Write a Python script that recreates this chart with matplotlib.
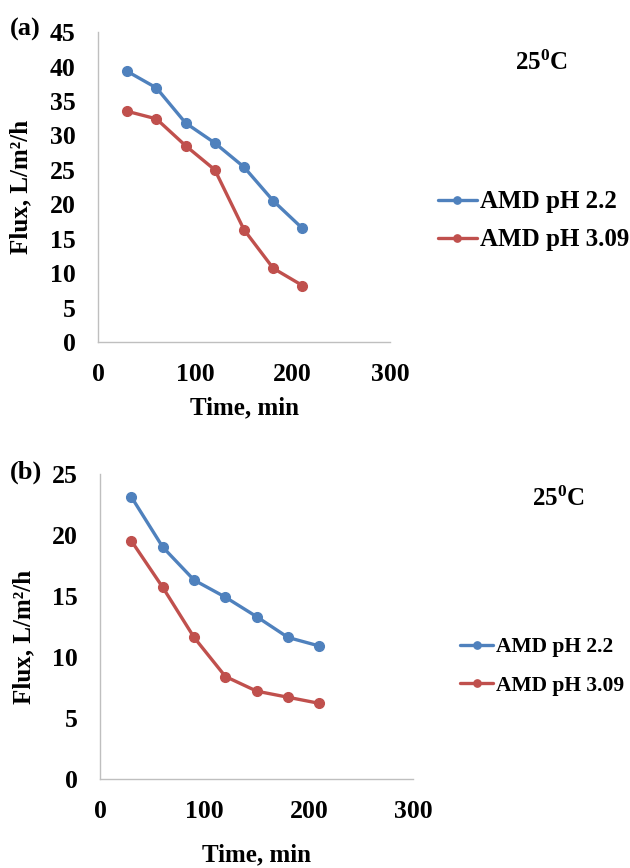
import matplotlib
matplotlib.use('Agg')
import matplotlib.pyplot as plt

plt.rcParams['font.family'] = ['Liberation Serif', 'DejaVu Serif']
plt.rcParams['font.weight'] = 'bold'
plt.rcParams['mathtext.fontset'] = 'custom'
plt.rcParams['mathtext.rm'] = 'Liberation Serif:bold'
plt.rcParams['mathtext.bf'] = 'Liberation Serif:bold'

# time points, min
time_min = [30, 60, 90, 120, 150, 180, 210]

# panel (a) flux, L/m2/h
flux_a_ph22 = [39.3, 36.9, 31.8, 28.9, 25.4, 20.5, 16.5]
flux_a_ph309 = [33.5, 32.4, 28.5, 25.0, 16.3, 10.7, 8.2]

# panel (b) flux, L/m2/h
flux_b_ph22 = [23.1, 19.0, 16.3, 14.9, 13.3, 11.6, 10.9]
flux_b_ph309 = [19.5, 15.7, 11.6, 8.4, 7.2, 6.7, 6.2]

series_labels = ['AMD pH 2.2', 'AMD pH 3.09']
series_colors = ['#4F81BD', '#C0504D']

fig = plt.figure(figsize=(6.3, 8.68), dpi=100)

panels = [
    # (axes rect, data, ylim, yticks, tag, tag y, ylabel coords, xlabel y,
    #  legend anchor, legend size, legend spacing, temp x, temp y)
    ([0.1556, 0.606, 0.4635, 0.357], (flux_a_ph22, flux_a_ph309), 45, range(0, 46, 5),
     '(a)', 0.966, (-0.226, 0.5), -0.175, (0.695, 0.7454), 18, 0.6, 0.860, 0.928),
    ([0.159, 0.1025, 0.497, 0.3515], (flux_b_ph22, flux_b_ph309), 25, range(0, 26, 5),
     '(b)', 0.456, (-0.208, 0.467), -0.212, (0.730, 0.2321), 15.5, 0.85, 0.886, 0.425),
]

for (rect, data, ymax, yticks, tag, tag_y, ylab_xy, xlab_y,
     leg_xy, leg_fs, leg_sp, temp_x, temp_y) in panels:
    ax = fig.add_axes(rect)
    for vals, lab, col in zip(data, series_labels, series_colors):
        ax.plot(time_min, vals, color=col, lw=2.4, marker='o', ms=7,
                label=lab, solid_joinstyle='round', solid_capstyle='round')
    ax.set_xlim(0, 300)
    ax.set_ylim(0, ymax)
    ax.set_xticks([0, 100, 200, 300])
    ax.set_yticks(list(yticks))
    ax.tick_params(length=0, labelsize=18.5)
    ax.tick_params(axis='x', pad=15)
    ax.tick_params(axis='y', pad=16)
    for s in ['top', 'right']:
        ax.spines[s].set_visible(False)
    for s in ['left', 'bottom']:
        ax.spines[s].set_color('#bfbfbf')
        ax.spines[s].set_linewidth(1.0)
    ax.set_ylabel('Flux, L/m\u00b2/h', fontsize=18, fontweight='bold')
    ax.yaxis.set_label_coords(*ylab_xy)
    ax.set_xlabel('Time, min', fontsize=18, fontweight='bold')
    ax.xaxis.set_label_coords(0.5, xlab_y)
    ax.legend(loc='center left', bbox_to_anchor=leg_xy, bbox_transform=fig.transFigure,
              frameon=False, fontsize=leg_fs, handlelength=1.55, handletextpad=0.15,
              borderpad=0, borderaxespad=0, labelspacing=leg_sp, markerscale=0.75)
    fig.text(0.016, tag_y, tag, fontsize=19, fontweight='bold', va='center', ha='left')
    fig.text(temp_x, temp_y, r'$\mathbf{25^{0}C}$', fontsize=18, ha='center', va='center')

fig.savefig('out.png', dpi=100)
